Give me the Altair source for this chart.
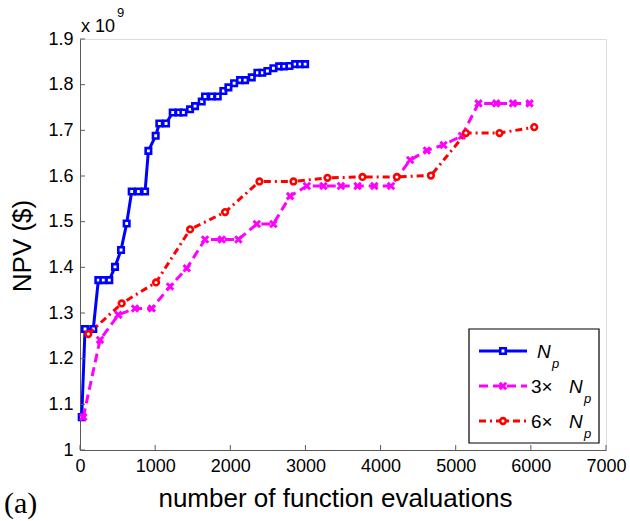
import altair as alt
import pandas as pd

# Number of function evaluations and NPV (in units of 1e9 $) for each population size
np_evals = [23, 67, 177, 244, 310, 390, 466, 546, 621, 688, 777, 866, 910, 1007,
            1056, 1145, 1234, 1314, 1376, 1465, 1531, 1620, 1664, 1753, 1833, 1908,
            1975, 2051, 2130, 2197, 2286, 2361, 2427, 2494, 2574, 2650, 2716, 2787,
            2863, 2929, 2996]
np_npv = [1.072, 1.265, 1.265, 1.372, 1.372, 1.372, 1.401, 1.438, 1.496, 1.566,
          1.566, 1.566, 1.655, 1.688, 1.715, 1.715, 1.739, 1.739, 1.739, 1.746,
          1.753, 1.763, 1.774, 1.774, 1.774, 1.786, 1.794, 1.803, 1.810, 1.810,
          1.816, 1.826, 1.826, 1.830, 1.836, 1.840, 1.840, 1.841, 1.845, 1.845, 1.845]

np3_evals = [44, 266, 510, 732, 955, 1198, 1421, 1664, 1887, 2108, 2353, 2574,
             2796, 3019, 3240, 3472, 3694, 3916, 4139, 4394, 4616, 4838, 5082,
             5303, 5539, 5761, 5983]
np3_npv = [1.072, 1.241, 1.296, 1.310, 1.310, 1.358, 1.398, 1.461, 1.461, 1.461,
           1.495, 1.495, 1.556, 1.578, 1.578, 1.578, 1.578, 1.578, 1.578, 1.635,
           1.656, 1.668, 1.688, 1.759, 1.759, 1.759, 1.759]

np6_evals = [111, 555, 1012, 1465, 1931, 2388, 2841, 3293, 3759, 4217, 4670,
             5136, 5583, 6045]
np6_npv = [1.254, 1.321, 1.367, 1.483, 1.521, 1.588, 1.588, 1.596, 1.598, 1.598,
           1.601, 1.694, 1.694, 1.707]

x_ticks = [0, 1000, 2000, 3000, 4000, 5000, 6000, 7000]
y_ticks = [1.0, 1.1, 1.2, 1.3, 1.4, 1.5, 1.6, 1.7, 1.8, 1.9]

W, H = 526, 411
AXIS_GRAY = "#5a5a5a"
FONT = "Liberation Sans"
X_SHAPE = "M-1,-1L1,1M-1,1L1,-1"

x_scale = alt.Scale(domain=[0, 7000], nice=False, zero=False)
y_scale = alt.Scale(domain=[1.0, 1.9], nice=False, zero=False)

x_axis = alt.Axis(values=x_ticks, format="d", ticks=False, tickSize=0, grid=False,
                  labelFlush=False, labelOverlap=False,
                  domainColor=AXIS_GRAY, domainWidth=1, labelFont=FONT,
                  labelFontSize=18, labelColor="black", labelPadding=7,
                  title="number of function evaluations", titleFont=FONT,
                  titleFontSize=26, titleFontWeight="normal", titleColor="black",
                  titleX=W / 2 - 8, titleY=56, titleBaseline="alphabetic")
y_axis = alt.Axis(values=y_ticks, ticks=False, tickSize=0, grid=False,
                  labelFlush=False, labelOverlap=False,
                  labelExpr="datum.value == 1 ? '1' : format(datum.value, '.1f')",
                  domainColor=AXIS_GRAY, domainWidth=1, labelFont=FONT,
                  labelFontSize=18, labelColor="black", labelPadding=7,
                  title="NPV ($)", titleFont=FONT, titleFontSize=26,
                  titleFontWeight="normal", titleColor="black", titleAngle=-90,
                  titleX=-58, titleY=H / 2 + 1, titleAlign="center",
                  titleBaseline="middle")


def xy(xfield, yfield):
    return (alt.X(f"{xfield}:Q", scale=x_scale, axis=x_axis),
            alt.Y(f"{yfield}:Q", scale=y_scale, axis=y_axis))


def series(evals, npv, color, dash, point_kw):
    df = pd.DataFrame({"evals": evals, "npv": npv})
    line_kw = dict(color=color, strokeWidth=3, strokeCap="butt", strokeJoin="round")
    if dash:
        line_kw["strokeDash"] = dash
    line = alt.Chart(df).mark_line(**line_kw).encode(*xy("evals", "npv"))
    pts = alt.Chart(df).mark_point(opacity=1, **point_kw).encode(*xy("evals", "npv"))
    return [line, pts]


sq_kw = dict(shape="square", size=30, fill="white", filled=True, stroke="#0000ff",
             strokeWidth=2.6)
x_kw = dict(shape=X_SHAPE, size=42, filled=False, stroke="#ff00ff", strokeWidth=3)
ci_kw = dict(shape="circle", size=32, fill="white", filled=True, stroke="#ff0000",
             strokeWidth=2.6)

layers = []
layers += series(np_evals, np_npv, "#0000ff", None, sq_kw)
layers += series(np3_evals, np3_npv, "#ff00ff", [9, 5], x_kw)
layers += series(np6_evals, np6_npv, "#ff0000", [7, 4, 2, 4], ci_kw)

# inward tick marks
ytick_df = pd.DataFrame({"v": y_ticks, "w": y_ticks})
xtick_df = pd.DataFrame({"v": x_ticks, "w": [1.0] * len(x_ticks)})
ytick_x, ytick_y = xy("w", "v")
layers.append(alt.Chart(ytick_df).mark_rule(color=AXIS_GRAY, strokeWidth=1).encode(
    y=ytick_y, x=alt.value(0), x2=alt.value(5)))
xtick_x, xtick_y = xy("v", "w")
layers.append(alt.Chart(xtick_df).mark_rule(color=AXIS_GRAY, strokeWidth=1).encode(
    x=xtick_x, y=alt.value(H), y2=alt.value(H - 5)))

one = pd.DataFrame({"k": [0]})


def text(t, x, y, size, **kw):
    return alt.Chart(one).mark_text(fontSize=size, align="left",
                                    baseline="alphabetic", color="black",
                                    **kw).encode(
        x=alt.value(x), y=alt.value(y), text=alt.value(t))


# exponent annotation and panel tag
layers.append(text("x 10", 1, -7, 18, font=FONT))
layers.append(text("9", 37, -22, 13, font=FONT))
layers.append(text("(a)", -76, 474, 30, font="Liberation Serif"))

# legend box
layers.append(alt.Chart(one).mark_rect(fill="white", stroke="black",
                                       strokeWidth=1.2).encode(
    x=alt.value(389), x2=alt.value(519), y=alt.value(290), y2=alt.value(404)))

legend_rows = [
    (312, "#0000ff", None, sq_kw, None),
    (347, "#ff00ff", [9, 5], x_kw, "3\u00d7"),
    (382, "#ff0000", [7, 4, 2, 4], ci_kw, "6\u00d7"),
]
for ry, color, dash, pkw, prefix in legend_rows:
    rule_kw = dict(color=color, strokeWidth=3, strokeCap="butt")
    if dash:
        rule_kw["strokeDash"] = dash
    layers.append(alt.Chart(one).mark_rule(**rule_kw).encode(
        x=alt.value(399), x2=alt.value(447), y=alt.value(ry)))
    layers.append(alt.Chart(one).mark_point(opacity=1, **pkw).encode(
        x=alt.value(423), y=alt.value(ry)))
    if prefix is None:
        nx = 457
    else:
        layers.append(text(prefix, 451, ry + 7, 19, font=FONT))
        nx = 489
    layers.append(text("N", nx, ry + 7, 19, font=FONT, fontStyle="italic"))
    layers.append(text("p", nx + 15, ry + 17, 13, font=FONT, fontStyle="italic"))

chart = alt.layer(*layers).properties(
    width=W, height=H,
    autosize=alt.AutoSizeParams(type="none"),
    padding={"left": 80, "top": 39, "right": 24, "bottom": 71},
).configure_view(stroke=None).configure(background="white")

chart.save("out.html", embed_options={"renderer": "svg", "actions": False})
